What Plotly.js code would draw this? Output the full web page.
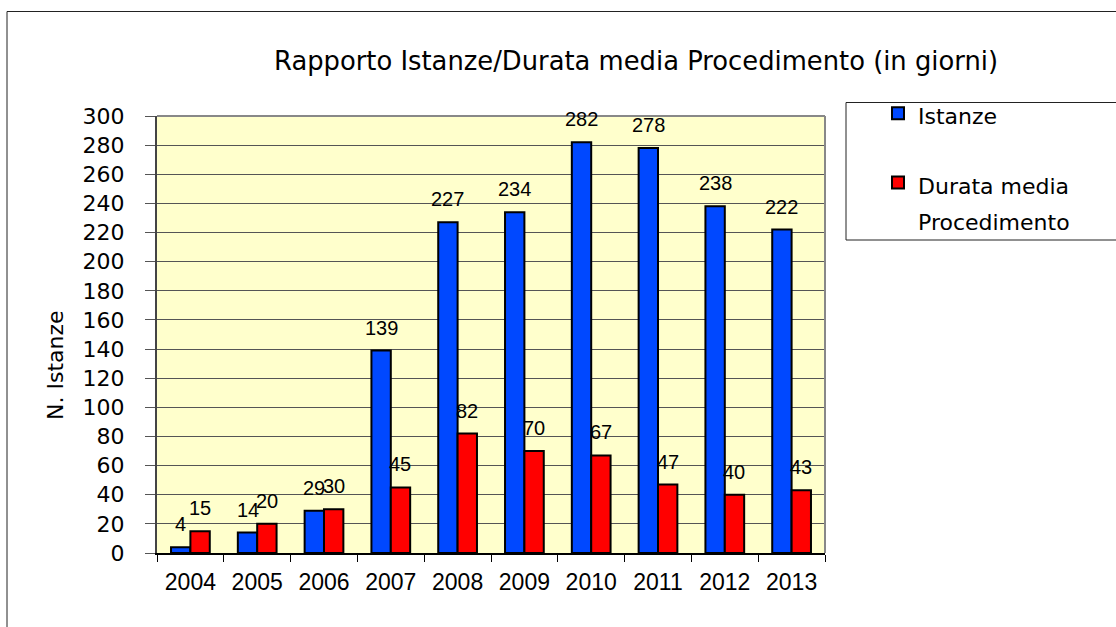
<!DOCTYPE html>
<html>
<head>
<meta charset="utf-8">
<script src="https://cdn.plot.ly/plotly-3.0.1.min.js"></script>
<style>html,body{margin:0;padding:0;background:#fff;}#chart{width:1116px;height:627px;}</style>
</head>
<body>
<div id="chart"></div>
<script>
const years = ['2004','2005','2006','2007','2008','2009','2010','2011','2012','2013'];
const istanze = [4, 14, 29, 139, 227, 234, 282, 278, 238, 222];
const durataMedia = [15, 20, 30, 45, 82, 70, 67, 47, 40, 43];
const seriesNames = ['Istanze', 'Durata media<br>Procedimento'];
const chartTitle = 'Rapporto Istanze/Durata media Procedimento (in giorni)';
const yTitle = 'N. Istanze';

const BARGAP = 0.42;
const off = (1 - BARGAP) / 4;
const legendSpan = s => '<span style="font-size:22px">' + s.split('<br>').join('</span><br><span style="font-size:22px">') + '</span>';

const traces = [
  {type:'bar', x: years, y: istanze, name: legendSpan(seriesNames[0]), legendgroup:'a',
   marker:{color:'#0048ff', line:{color:'#000', width:2}}, hoverinfo:'none'},
  {type:'bar', x: years, y: durataMedia, name: legendSpan(seriesNames[1]), legendgroup:'b',
   marker:{color:'#ff0000', line:{color:'#000', width:2}}, hoverinfo:'none'}
];

const labelFont = {family:'Liberation Sans, Arial, sans-serif', size:20, color:'#000'};
const annotations = [];
[istanze, durataMedia].forEach((vals, s) => {
  vals.forEach((v, j) => {
    annotations.push({x: j + (s === 0 ? -off : off), y: v, xref:'x', yref:'y', text: String(v),
      showarrow:false, yanchor:'bottom', yshift:10, font: labelFont});
  });
});
annotations.push({xref:'paper', yref:'paper', x:(55-157)/668, y:(553-365)/437, text: yTitle,
  textangle:-90, showarrow:false, xanchor:'center', yanchor:'middle',
  font:{family:'DejaVu Sans, sans-serif', size:22, color:'#000'}});

const shapes = [
  {type:'rect', xref:'paper', yref:'paper', x0:(7-157)/668, x1:1.7, y0:-0.6, y1:1+(116-11.5)/437,
   line:{color:'#222', width:1}},
  {type:'rect', xref:'paper', yref:'paper', x0:(846-157)/668, x1:1.7, y0:1-(240-116)/437, y1:1+(116-102.5)/437,
   line:{color:'#222', width:1}},
  {type:'line', xref:'paper', yref:'paper', x0:0, x1:1, y0:1, y1:1, line:{color:'#888', width:2}},
  {type:'line', xref:'paper', yref:'paper', x0:1, x1:1, y0:0, y1:1, line:{color:'#888', width:2}}
];

const layout = {
  width:1116, height:627,
  margin:{l:157, r:291, t:116, b:74},
  paper_bgcolor:'#fff', plot_bgcolor:'#ffffcc',
  barmode:'group', bargap:BARGAP, bargroupgap:0,
  showlegend:true,
  title:{text: chartTitle, xref:'paper', x:(636-157)/668, xanchor:'center', yref:'container', y:1-61/627, yanchor:'middle',
    font:{family:'DejaVu Sans, sans-serif', size:25.8, color:'#000'}},
  xaxis:{type:'category', showline:true, linecolor:'#000', linewidth:1.5, ticks:'outside', tickson:'boundaries',
    ticklen:7, tickcolor:'#000', tickwidth:1, showgrid:false, ticklabelstandoff:8,
    tickfont:{family:'Liberation Sans, Arial, sans-serif', size:23, color:'#000'}},
  yaxis:{range:[0,300], dtick:20, tick0:0, showline:true, linecolor:'#444', linewidth:2, ticks:'outside', ticklen:10,
    tickcolor:'#555', showgrid:true, gridcolor:'#555', gridwidth:1, zeroline:false, ticklabelstandoff:16,
    tickfont:{family:'DejaVu Sans, sans-serif', size:22, color:'#000'}},
  legend:{x:(878-157)/668, xanchor:'left', y:1+(116-88.5)/437, yanchor:'top', traceorder:'grouped', tracegroupgap:30,
    valign:'top', bgcolor:'rgba(0,0,0,0)', borderwidth:0, font:{family:'DejaVu Sans, sans-serif', size:28, color:'#000'}},
  annotations: annotations,
  shapes: shapes
};

Plotly.newPlot('chart', traces, layout, {displayModeBar:false, staticPlot:true});
</script>
</body>
</html>
